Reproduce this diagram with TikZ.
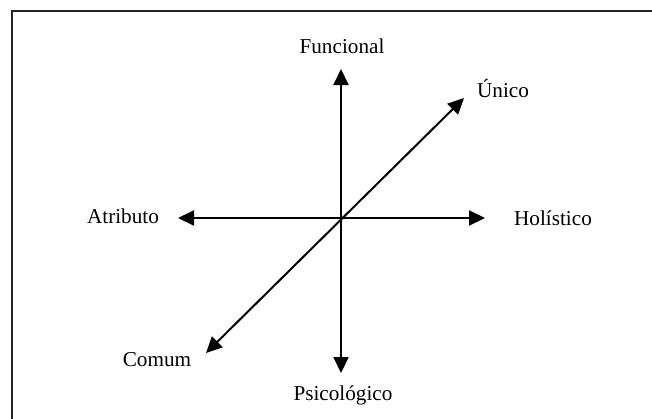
\documentclass[tikz,border=0pt]{standalone}
\usepackage{fontspec}
\setmainfont{Liberation Serif}
\usetikzlibrary{arrows.meta,positioning,calc}
\tikzset{
  axisarrow/.style={{Triangle[length=8pt,width=7.5pt]}-{Triangle[length=8pt,width=7.5pt]},line width=1pt},
  axislabel/.style={font=\fontsize{10.6}{12}\selectfont,inner sep=0pt,anchor=base},
  frameline/.style={line width=1pt,draw=black!85}
}
\begin{document}
\begin{tikzpicture}[x=0.5pt,y=-0.5pt]
  \useasboundingbox (0,0) rectangle (652,418);
  \draw[frameline] (12,440) |- (670,11);
  % the three axes cross here
  \coordinate (origin) at (341,218);
  \coordinate (funcTip) at (341,69);
  \coordinate (psicTip) at (341,373);
  \coordinate (atribTip) at (178,218);
  \coordinate (holTip) at (485,218);
  \coordinate (unicoTip) at (464,98);
  \coordinate (comumTip) at (206,353);
  \node[axislabel] (func) at (342,53) {Funcional};
  \node[axislabel] (psic) at (343,400) {Psicológico};
  \node[axislabel] (atrib) at (123,223) {Atributo};
  \node[axislabel] (hol) at (553,225) {Holístico};
  \node[axislabel] (unico) at (503,97) {Único};
  \node[axislabel] (comum) at (157,366) {Comum};
  \draw[axisarrow] (psicTip) -- (funcTip);
  \draw[axisarrow] (atribTip) -- (holTip);
  \draw[axisarrow] (comumTip) -- (unicoTip);
\end{tikzpicture}
\end{document}
